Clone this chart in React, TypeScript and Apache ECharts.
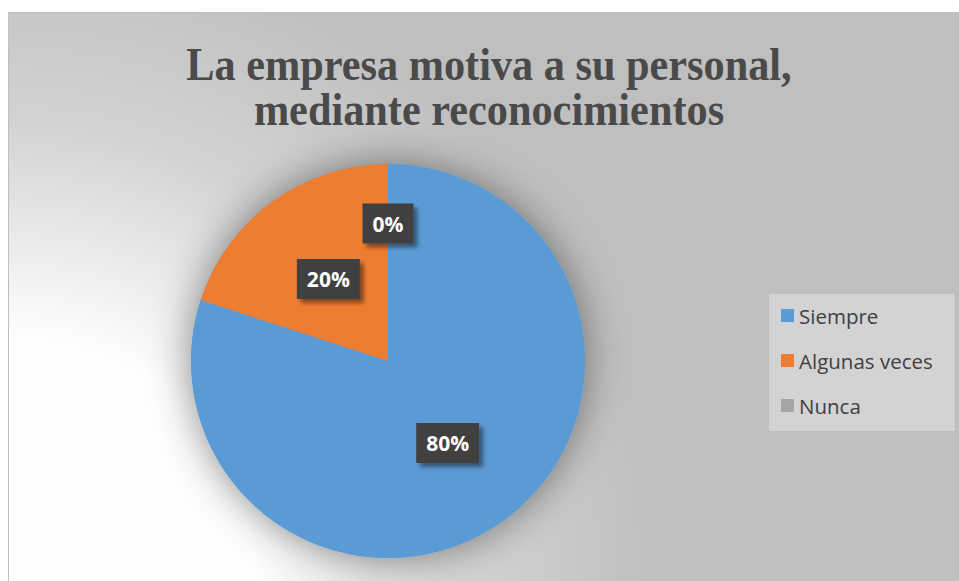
import React, { useEffect, useRef } from "react";
import * as echarts from "echarts";

const categories = ["Siempre", "Algunas veces", "Nunca"];
const values = [80, 20, 0];
const colors = ["#5B9BD5", "#ED7D31", "#A5A5A5"];
const titleLines = ["La empresa motiva a su personal,", "mediante reconocimientos"];

export default function App() {
  const ref = useRef<HTMLDivElement>(null);
  useEffect(() => {
    if (!ref.current) return;
    const chart = echarts.init(ref.current, undefined, { renderer: "svg" });
    const pieData = categories.map((name, i) => ({
      name,
      value: values[i],
      itemStyle: { color: colors[i] },
    }));
    const titleGraphics = titleLines.map((line, i) => ({
      type: "text",
      x: 489,
      y: 64 + i * 45,
      scaleX: 0.9,
      z: 10,
      style: {
        text: line,
        fontFamily: "Liberation Serif",
        fontWeight: "bold",
        fontSize: 47,
        fill: "#4a4a4a",
        textAlign: "center",
        textVerticalAlign: "middle",
      },
    }));
    chart.setOption({
      animation: false,
      backgroundColor: "#ffffff",
      graphic: [
        {
          type: "rect",
          z: -10,
          silent: true,
          shape: { x: 8.5, y: 12.5, width: 950, height: 580 },
          style: {
            fill: {
              type: "radial",
              x: 8,
              y: 581,
              r: 650,
              global: true,
              colorStops: [
                { offset: 0, color: "#ffffff" },
                { offset: 0.38, color: "#fdfdfd" },
                { offset: 0.7, color: "#d3d3d3" },
                { offset: 1, color: "#bfbfbf" },
              ],
            },
            stroke: "#bfbfbf",
            lineWidth: 1,
          },
        },
        ...titleGraphics,
      ],
      legend: {
        data: categories,
        orient: "vertical",
        left: 769,
        top: 294,
        padding: [11, 22, 15, 12],
        backgroundColor: "rgba(255,255,255,0.32)",
        itemWidth: 13,
        itemHeight: 13,
        itemGap: 24,
        icon: "rect",
        textStyle: {
          fontFamily: "Open Sans",
          fontSize: 20.5,
          lineHeight: 21,
          color: "#404040",
        },
      },
      series: [
        {
          type: "pie",
          name: "bg",
          center: [388, 361],
          radius: 197,
          silent: true,
          z: 1,
          label: { show: false },
          labelLine: { show: false },
          data: [{ name: "bg", value: 1 }],
          itemStyle: {
            color: "#5B9BD5",
            shadowBlur: 40,
            shadowColor: "rgba(0,0,0,0.45)",
          },
        },
        {
          type: "pie",
          name: "La empresa motiva a su personal",
          center: [388, 361],
          radius: 197,
          startAngle: 90,
          clockwise: true,
          z: 2,
          data: pieData,
          label: {
            show: true,
            position: "inside",
            formatter: "{d}%",
            color: "#ffffff",
            fontFamily: "Open Sans",
            fontWeight: "bold",
            fontSize: 21,
            lineHeight: 22,
            backgroundColor: "#404040",
            padding: [9, 10],
            shadowColor: "rgba(0,0,0,0.45)",
            shadowBlur: 4,
            shadowOffsetX: 4,
            shadowOffsetY: 4,
          },
          labelLayout: (p: any) => (p.dataIndex === 2 ? { dy: -36 } : {}),
          emphasis: { disabled: true },
        },
      ],
    });
    return () => chart.dispose();
  }, []);
  return (
    <div
      ref={ref}
      style={{ position: "absolute", left: 0, top: 0, width: 959, height: 581 }}
    />
  );
}
